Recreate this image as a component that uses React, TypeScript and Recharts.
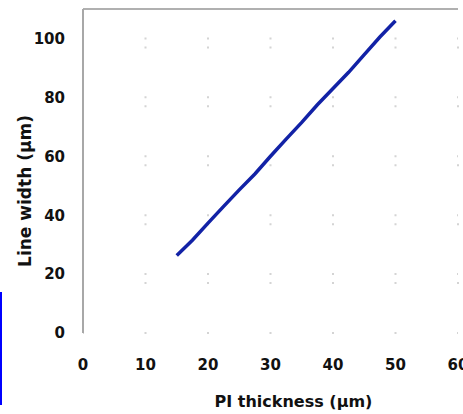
import React from 'react';
import { LineChart, Line, XAxis, YAxis, CartesianGrid, ReferenceLine, Label } from 'recharts';

const thickness = [15, 17.5, 20, 22.5, 25, 27.5, 30, 32.5, 35, 37.5, 40, 42.5, 45, 47.5, 50];
const lineWidth = [26.3, 31.5, 37.3, 43, 48.6, 54, 60, 65.8, 71.5, 77.5, 83, 88.5, 94.5, 100.5, 106];
const xTicks = [0, 10, 20, 30, 40, 50, 60];
const yTicks = [0, 20, 40, 60, 80, 100];
const xTitle = 'PI thickness (µm)';
const yTitle = 'Line width (µm)';

const data = thickness.map((x, i) => ({ x, y: lineWidth[i] }));

const FONT = '"DejaVu Sans", sans-serif';
const tickStyle = { fill: '#111', fontFamily: FONT, fontWeight: 'bold', fontSize: 15 } as any;

export default function App() {
  return (
    <div style={{ position: 'absolute', left: 0, top: 0, width: 463, height: 414, overflow: 'hidden', background: '#fff' }}>
      <div style={{ position: 'absolute', left: 0, top: 292, width: 2, height: 113, background: '#0000ff' }} />
      <LineChart width={500} height={414} data={data} margin={{ top: 9, right: 42, bottom: 0, left: 0 }}>
        <CartesianGrid vertical={false} stroke="#d4d4d4" strokeWidth={2} strokeDasharray="2 60.5" strokeDashoffset={1} />
        <CartesianGrid horizontal={false} stroke="#d4d4d4" strokeWidth={2} strokeDasharray="2 56.9" strokeDashoffset={21.45} />
        <XAxis
          type="number"
          dataKey="x"
          domain={[0, 60]}
          ticks={xTicks}
          height={81}
          axisLine={false}
          tickLine={false}
          tickMargin={20}
          tick={tickStyle}
          interval={0}
        >
          <Label
            content={(p: any) => {
              const vb = p.viewBox || { x: 83, y: 333, width: 375, height: 81 };
              return (
                <text x={vb.x + vb.width / 2 + 23} y={vb.y + 74} textAnchor="middle" fill="#111" fontFamily={FONT} fontWeight="bold" fontSize={16}>
                  {xTitle}
                </text>
              );
            }}
          />
        </XAxis>
        <YAxis
          type="number"
          domain={[0, 110]}
          ticks={yTicks}
          width={83}
          axisLine={{ stroke: '#a8a8a8', strokeWidth: 2 }}
          tickLine={false}
          tickMargin={12}
          tick={tickStyle}
          interval={0}
        >
          <Label
            content={(p: any) => {
              const vb = p.viewBox || { x: 0, y: 9, width: 83, height: 324 };
              const cx = vb.x + 25;
              const cy = vb.y + vb.height / 2 + 20;
              return (
                <text x={cx} y={cy} transform={`rotate(-90 ${cx} ${cy})`} textAnchor="middle" dominantBaseline="central" fill="#111" fontFamily={FONT} fontWeight="bold" fontSize={17}>
                  {yTitle}
                </text>
              );
            }}
          />
        </YAxis>
        <ReferenceLine y={110} stroke="#b0b0b0" strokeWidth={2} />
        <Line type="linear" dataKey="y" stroke="#1222a6" strokeWidth={3.5} dot={false} isAnimationActive={false} />
      </LineChart>
    </div>
  );
}
